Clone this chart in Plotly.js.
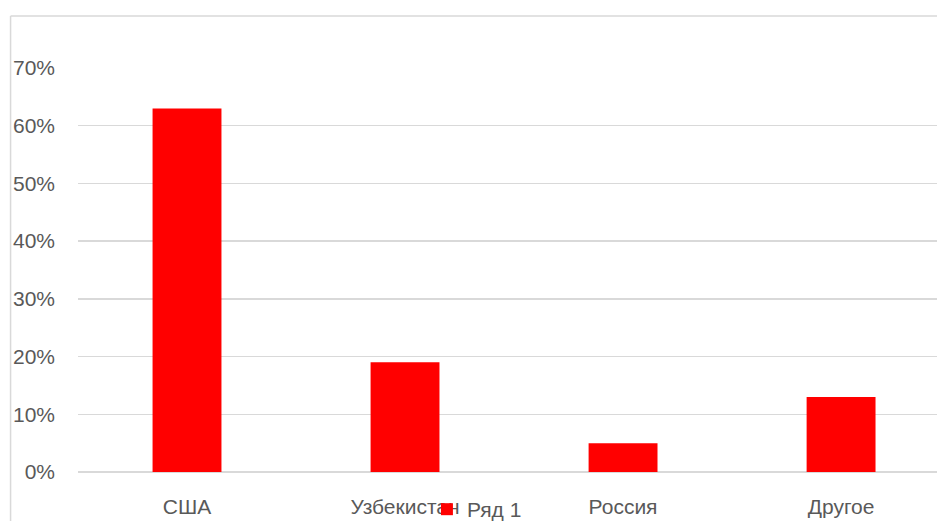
<!DOCTYPE html>
<html>
<head>
<meta charset="utf-8">
<script src="https://cdn.plot.ly/plotly-3.0.1.min.js"></script>
<style>html,body{margin:0;padding:0;background:#fff;}#chart{width:937px;height:521px;}</style>
</head>
<body>
<div id="chart"></div>
<script>
const categories = ["США", "Узбекистан", "Россия", "Другое"];
const values = [0.63, 0.19, 0.05, 0.13];
const seriesName = "Ряд 1";
const yTickVals = [0, 0.1, 0.2, 0.3, 0.4, 0.5, 0.6, 0.7];
const yTickText = ["0%", "10%", "20%", "30%", "40%", "50%", "60%", "70%"];

const font = {family: "Liberation Sans, Arial, sans-serif", size: 21, color: "#595959"};

const trace = {
  type: "bar",
  x: [0, 1, 2, 3],
  y: values,
  name: seriesName,
  width: 0.316,
  marker: {color: "#FF0000"},
  showlegend: true
};

const layout = {
  width: 937, height: 521,
  margin: {l: 77.5, r: 0, t: 68, b: 49, autoexpand: false},
  paper_bgcolor: "#fff", plot_bgcolor: "#fff",
  font: font,
  showlegend: true,
  legend: {orientation: "h", xref: "container", yref: "container", x: 0.509, xanchor: "center",
           y: 0.022, yanchor: "middle", font: font, bgcolor: "rgba(0,0,0,0)"},
  xaxis: {
    range: [-0.5, 3.44], tickvals: [0, 1, 2, 3], ticktext: categories,
    showgrid: false, zeroline: false, showline: false, ticks: "",
    tickfont: font, ticklabelstandoff: 20, fixedrange: true, automargin: false
  },
  yaxis: {
    range: [0, 0.7], tickvals: yTickVals, ticktext: yTickText,
    showgrid: true, gridcolor: "#d9d9d9", gridwidth: 1.5,
    zeroline: true, zerolinecolor: "#d9d9d9", zerolinewidth: 1.5,
    showline: false, ticks: "", tickfont: font, ticklabelstandoff: 22, fixedrange: true, automargin: false
  },
  shapes: [
    {type: "line", xref: "paper", yref: "paper", x0: -0.0785, x1: -0.0785, y0: -0.2, y1: 1.1287,
     line: {color: "#d9d9d9", width: 1.5}},
    {type: "line", xref: "paper", yref: "paper", x0: -0.0785, x1: 1.05, y0: 1.1287, y1: 1.1287,
     line: {color: "#d9d9d9", width: 1.5}}
  ]
};

Plotly.newPlot("chart", [trace], layout, {displayModeBar: false, staticPlot: true});
</script>
</body>
</html>
